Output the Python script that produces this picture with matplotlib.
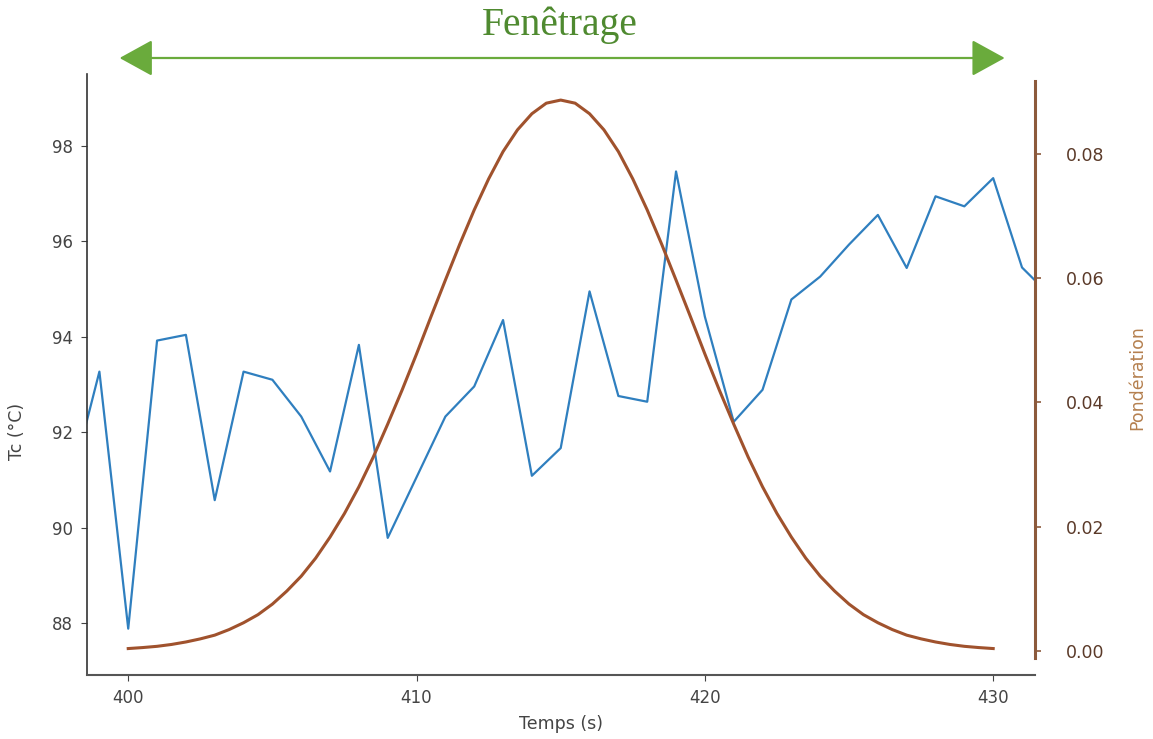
import matplotlib
matplotlib.use("Agg")
import matplotlib.pyplot as plt

# ---- data ----
temps = [398, 399, 400, 401, 402, 403, 404, 405, 406, 407, 408, 409, 410, 411, 412,
         413, 414, 415, 416, 417, 418, 419, 420, 421, 422, 423, 424, 425, 426, 427,
         428, 429, 430, 431, 432]
tc = [90.9, 93.27, 87.89, 93.92, 94.04, 90.58, 93.27, 93.10, 92.33, 91.18, 93.83,
      89.79, 91.06, 92.33, 92.96, 94.35, 91.09, 91.67, 94.95, 92.76, 92.64, 97.46,
      94.42, 92.22, 92.89, 94.78, 95.26, 95.93, 96.55, 95.44, 96.94, 96.73, 97.32,
      95.45, 94.85]

t_pond = [400 + 0.5 * i for i in range(61)]
ponderation = [0.00034, 0.0005, 0.0007, 0.0010, 0.0014, 0.0019, 0.0025, 0.0034,
               0.0045, 0.0058, 0.0075, 0.0096, 0.0120, 0.0149, 0.0183, 0.0221,
               0.0264, 0.0312, 0.0365, 0.0420, 0.0478, 0.0538, 0.0597, 0.0655,
               0.0710, 0.0760, 0.0804, 0.0839, 0.0865, 0.0882, 0.0887,
               0.0882, 0.0865, 0.0839, 0.0804, 0.0760, 0.0710, 0.0655, 0.0597,
               0.0538, 0.0478, 0.0420, 0.0365, 0.0312, 0.0264, 0.0221, 0.0183,
               0.0149, 0.0120, 0.0096, 0.0075, 0.0058, 0.0045, 0.0034, 0.0025,
               0.0019, 0.0014, 0.0010, 0.0007, 0.0005, 0.00034]

xticks = [400, 410, 420, 430]
yticks_left = [88, 90, 92, 94, 96, 98]
yticks_right = [0.00, 0.02, 0.04, 0.06, 0.08]
window = (400, 430)

title = "Fenêtrage"
xlabel = "Temps (s)"
ylabel_left = "Tc (°C)"
ylabel_right = "Pondération"

# ---- styles ----
blue = "#2f7fbf"
brown = "#a0522d"
brown_spine = "#8c5a3c"
brown_tick = "#5b3a29"
brown_label = "#b5804f"
green = "#4f8a30"
green_arrow = "#6aab3c"
gray = "#333333"

fig = plt.figure(figsize=(11.53, 7.39), dpi=100)
ax = fig.add_axes([87 / 1153, 1 - 675 / 739, (1035 - 87) / 1153, (675 - 74) / 739])

ax.plot(temps, tc, color=blue, lw=1.6, zorder=2)
ax.set_xlim(398.57, 431.45)
ax.set_ylim(86.92, 99.5)
ax.set_xticks(xticks)
ax.set_yticks(yticks_left)
ax.tick_params(axis="both", labelsize=12, colors="#444444", length=4, width=0.8, pad=6)
ax.spines["top"].set_visible(False)
ax.spines["right"].set_visible(False)
ax.spines["left"].set_color(gray)
ax.spines["left"].set_linewidth(1.2)
ax.spines["bottom"].set_color("#555555")
ax.spines["bottom"].set_linewidth(1.5)
ax.set_xlabel(xlabel, fontsize=12.5, color="#444444", labelpad=6)
ax.set_ylabel(ylabel_left, fontsize=12.5, color="#444444")
ax.yaxis.set_label_coords(-0.064, 0.405)

ax2 = ax.twinx()
ax2.plot(t_pond, ponderation, color=brown, lw=2.2, zorder=3)
ax2.set_ylim(-0.00392, 0.0929)
ax2.set_yticks(yticks_right)
ax2.set_yticklabels([f"{v:.2f}" for v in yticks_right])
ax2.tick_params(axis="y", labelsize=12.5, colors=brown_spine, labelcolor=brown_tick,
                length=4, width=1.2, pad=18)
for s in ["top", "left", "bottom"]:
    ax2.spines[s].set_visible(False)
ax2.spines["right"].set_color(brown_spine)
ax2.spines["right"].set_linewidth(2.2)
ax2.spines["right"].set_bounds(-0.0012, 0.0918)
ax2.set_ylabel(ylabel_right, fontsize=12.5, color=brown_label)
ax2.yaxis.set_label_coords(1.098, 0.495)

# window arrow and title
ax.annotate("", xy=(window[0] - 0.3, 1 - 58 / 739), xycoords=("data", "figure fraction"),
            xytext=(window[1] + 0.4, 1 - 58 / 739), textcoords=("data", "figure fraction"),
            arrowprops=dict(arrowstyle="<|-|>,head_length=0.4,head_width=0.22",
                            color=green_arrow, lw=1.6, mutation_scale=52,
                            shrinkA=0, shrinkB=0),
            annotation_clip=False)
fig.text(560 / 1153, 1 - 25 / 739, title, family="Liberation Serif", fontsize=28.5,
         color=green, ha="center", va="center")

fig.savefig("out.png", dpi=100, facecolor="white")
